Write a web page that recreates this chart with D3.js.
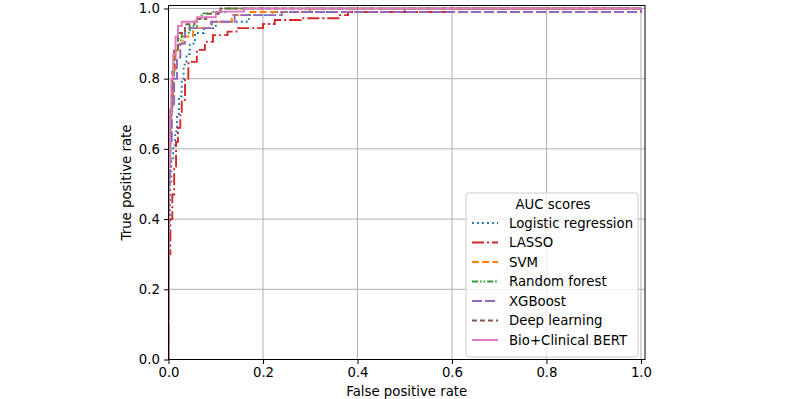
<!DOCTYPE html>
<html>
<head>
<meta charset="utf-8">
<script src="https://cdn.jsdelivr.net/npm/d3@7"></script>
<style>
  body { margin: 0; background: #fff; }
  svg text { font-family: "DejaVu Sans", sans-serif; fill: #000; }
</style>
</head>
<body>
<svg id="roc"></svg>
<script>
// ROC curves, as staircase corners [fpr, tpr]
let logistic = [[0,0],[0,0.40],[0.003,0.50],[0.006,0.57],[0.01,0.61],[0.014,0.65],[0.018,0.70],[0.022,0.75],[0.028,0.80],[0.032,0.84],[0.038,0.87],[0.045,0.90],[0.056,0.93],[0.075,0.944],[0.10,0.962],[0.17,0.981],[0.22,0.99],[0.5,1.0],[1,1]];
let lasso = [[0,0],[0,0.30],[0.004,0.40],[0.008,0.47],[0.012,0.55],[0.016,0.62],[0.02,0.66],[0.025,0.70],[0.028,0.74],[0.035,0.80],[0.042,0.848],[0.06,0.882],[0.077,0.905],[0.094,0.924],[0.125,0.934],[0.144,0.944],[0.20,0.956],[0.225,0.967],[0.28,0.972],[0.363,0.981],[0.38,0.99],[0.6,1.0],[1,1]];
let svm = [[0,0],[0,0.50],[0.003,0.65],[0.006,0.75],[0.01,0.82],[0.015,0.88],[0.02,0.90],[0.03,0.92],[0.052,0.944],[0.092,0.962],[0.134,0.981],[0.17,0.99],[0.30,1.0],[1,1]];
let randomForest = [[0,0],[0,0.55],[0.004,0.70],[0.008,0.80],[0.012,0.88],[0.02,0.91],[0.028,0.93],[0.045,0.95],[0.06,0.972],[0.07,0.986],[0.095,0.99],[0.12,1.0],[1,1]];
let xgboost = [[0,0],[0,0.50],[0.003,0.62],[0.007,0.72],[0.012,0.80],[0.018,0.86],[0.025,0.90],[0.035,0.944],[0.09,0.962],[0.14,0.981],[0.24,0.99],[1,1]];
let deepLearning = [[0,0],[0,0.55],[0.004,0.72],[0.008,0.82],[0.012,0.88],[0.02,0.93],[0.035,0.955],[0.055,0.97],[0.08,0.985],[0.11,1.0],[1,1]];
let bert = [[0,0],[0,0.55],[0.003,0.70],[0.006,0.80],[0.01,0.87],[0.015,0.92],[0.02,0.95],[0.028,0.962],[0.06,0.975],[0.10,0.991],[0.16,1.0],[1,1]];

let names = ["Logistic regression","LASSO","SVM","Random forest","XGBoost","Deep learning","Bio+Clinical BERT"];
let curves = [logistic, lasso, svm, randomForest, xgboost, deepLearning, bert];
let colors = ["#1f77b4","#d62728","#ff7f0e","#2ca02c","#9467bd","#8c564b","#e377c2"];
let dashes = ["1.9,3.1","12,3,2,3","7,3.2","6,2,1.6,2,1.6,2","10,3","5,3","none"];
let ticks = [0, 0.2, 0.4, 0.6, 0.8, 1.0];

let w = 800, h = 399;
let mLeft = 168.5, mRight = 645, mTop = 5.5, mBottom = 359.5;
let fs = "13.3px";

let svg = d3.select("#roc").attr("width", w).attr("height", h);

let x = d3.scaleLinear().domain([0, 1.0085]).range([mLeft, mRight]);
let y = d3.scaleLinear().domain([0, 1.0085]).range([mBottom, mTop]);

// grid
svg.append("g").selectAll("line").data(ticks).enter().append("line")
  .attr("x1", d => x(d)).attr("x2", d => x(d))
  .attr("y1", mTop).attr("y2", mBottom)
  .attr("stroke", "#b0b0b0").attr("stroke-width", 1);
svg.append("g").selectAll("line").data(ticks).enter().append("line")
  .attr("x1", mLeft).attr("x2", mRight)
  .attr("y1", d => y(d)).attr("y2", d => y(d))
  .attr("stroke", "#b0b0b0").attr("stroke-width", 1);

svg.append("clipPath").attr("id", "clip").append("rect")
  .attr("x", mLeft).attr("y", mTop).attr("width", mRight - mLeft).attr("height", mBottom - mTop);

let line = d3.line()
  .x(d => x(d[0]))
  .y(d => y(d[1]))
  .curve(d3.curveStepAfter);

svg.append("g").attr("clip-path", "url(#clip)")
  .selectAll("path").data(curves).enter().append("path")
  .attr("d", line)
  .attr("fill", "none")
  .attr("stroke", (d, i) => colors[i])
  .attr("stroke-width", 1.9)
  .attr("stroke-dasharray", (d, i) => dashes[i]);

// axes
let xAxis = d3.axisBottom(x).tickValues(ticks).tickFormat(d3.format(".1f")).tickSizeOuter(0).tickSize(4.5).tickPadding(4);
let yAxis = d3.axisLeft(y).tickValues(ticks).tickFormat(d3.format(".1f")).tickSizeOuter(0).tickSize(4.5).tickPadding(4);

let gx = svg.append("g").attr("transform", `translate(0,${mBottom})`).call(xAxis);
let gy = svg.append("g").attr("transform", `translate(${mLeft},0)`).call(yAxis);
[gx, gy].forEach(g => {
  g.select(".domain").remove();
  g.selectAll("line").attr("stroke", "#000").attr("stroke-width", 1);
  g.selectAll("text").attr("font-size", fs).attr("font-family", "DejaVu Sans");
});

svg.append("rect")
  .attr("x", mLeft).attr("y", mTop).attr("width", mRight - mLeft).attr("height", mBottom - mTop)
  .attr("fill", "none").attr("stroke", "#000").attr("stroke-width", 1);

svg.append("text")
  .attr("x", (mLeft + mRight) / 2).attr("y", 395.5)
  .attr("text-anchor", "middle").attr("font-size", fs)
  .text("False positive rate");
svg.append("text")
  .attr("transform", `translate(131,${(mTop + mBottom) / 2}) rotate(-90)`)
  .attr("text-anchor", "middle").attr("font-size", fs)
  .text("True positive rate");

// legend
let lg = svg.append("g").attr("transform", "translate(466,193)");
lg.append("rect")
  .attr("width", 172).attr("height", 164).attr("rx", 3)
  .attr("fill", "#fff").attr("fill-opacity", 0.8)
  .attr("stroke", "#cccccc").attr("stroke-width", 1);
lg.append("text")
  .attr("x", 87).attr("y", 16)
  .attr("text-anchor", "middle").attr("font-size", fs)
  .text("AUC scores");
let item = lg.selectAll("g.item").data(names).enter().append("g")
  .attr("class", "item")
  .attr("transform", (d, i) => `translate(0,${30 + i * 19.5})`);
item.append("line")
  .attr("x1", 6).attr("x2", 32).attr("y1", 0).attr("y2", 0)
  .attr("stroke", (d, i) => colors[i])
  .attr("stroke-width", 1.9)
  .attr("stroke-dasharray", (d, i) => dashes[i]);
item.append("text")
  .attr("x", 43).attr("y", 4.8)
  .attr("font-size", fs)
  .text(d => d);
</script>
</body>
</html>
